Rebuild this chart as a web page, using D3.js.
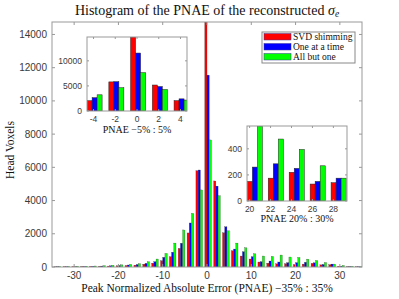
<!DOCTYPE html>
<html>
<head>
<meta charset="utf-8">
<script src="https://cdn.jsdelivr.net/npm/d3@7"></script>
<style>
  body { margin: 0; background: #fff; }
  svg { display: block; }
  .tick-label { font-family: "Liberation Sans", Arial, sans-serif; fill: #3a3a3a; }
  .serif { font-family: "Liberation Serif", "DejaVu Serif", serif; fill: #111; }
</style>
</head>
<body>
<div id="chart"></div>
<script>
var width = 399
var height = 299

// histogram bin centres (PNAE, %)
var bins = [-34, -32, -30, -28, -26, -24, -22, -20, -18, -16, -14, -12, -10, -8, -6, -4, -2,
            0, 2, 4, 6, 8, 10, 12, 14, 16, 18, 20, 22, 24, 26, 28, 30, 32, 34]

var svdShimming = [15, 20, 25, 30, 35, 45, 55, 70, 90, 110, 170, 230, 380, 620, 1120, 2050, 5800,
                   14750, 5180, 2060, 980, 660, 480, 300, 230, 190, 200, 150, 175, 220, 130, 140, 50, 25, 15]
var oneAtATime  = [20, 20, 25, 30, 40, 55, 70, 90, 120, 150, 220, 320, 580, 890, 1430, 2650, 5840,
                   11550, 4870, 2420, 1080, 920, 620, 320, 360, 300, 260, 260, 285, 250, 150, 175, 50, 30, 20]
var allButOne   = [25, 30, 40, 50, 60, 80, 100, 130, 160, 200, 320, 480, 820, 1440, 2230, 3230, 4640,
                   7650, 4290, 2180, 1440, 1160, 800, 660, 640, 720, 600, 575, 475, 395, 270, 175, 90, 40, 25]

var seriesNames = ["SVD shimming", "One at a time", "All but one"]
var seriesColors = ["#ff0000", "#0000ff", "#00ff00"]
var series = [svdShimming, oneAtATime, allButOne]

var mainXTicks = [-30, -20, -10, 0, 10, 20, 30]
var mainYTicks = [0, 2000, 4000, 6000, 8000, 10000, 12000, 14000]
var inset1Bins = [-4, -2, 0, 2, 4]
var inset1YTicks = [0, 5000, 10000]
var inset2Bins = [20, 22, 24, 26, 28]
var inset2YTicks = [0, 200, 400]

var svg = d3.select("#chart").append("svg")
    .attr("width", width)
    .attr("height", height)

var rows = bins.map(function(b, i) {
  return { bin: b, values: series.map(function(s) { return s[i] }) }
})

function drawPanel(opt) {
  var x = d3.scaleLinear().domain(opt.xDomain).range([opt.left, opt.right])
  var y = d3.scaleLinear().domain(opt.yDomain).range([opt.bottom, opt.top])
  var g = svg.append("g")

  var clipId = "clip-" + opt.name
  svg.append("clipPath").attr("id", clipId)
    .append("rect")
    .attr("x", opt.left).attr("y", opt.top)
    .attr("width", opt.right - opt.left).attr("height", opt.bottom - opt.top)

  g.append("rect")
    .attr("x", opt.left).attr("y", opt.top)
    .attr("width", opt.right - opt.left).attr("height", opt.bottom - opt.top)
    .attr("fill", "#fff")

  var data = rows.filter(function(r) { return opt.bins.indexOf(r.bin) >= 0 })
  var bw = opt.barWidth

  var groups = g.append("g").attr("clip-path", "url(#" + clipId + ")")
    .selectAll("g").data(data).enter().append("g")

  groups.selectAll("rect")
    .data(function(d) { return d.values.map(function(v, k) { return { bin: d.bin, v: v, k: k } }) })
    .enter().append("rect")
    .attr("x", function(d) { return x(d.bin + opt.offset + (d.k - 1.5) * bw) })
    .attr("width", function(d) { return x(bw) - x(0) })
    .attr("y", function(d) { return y(d.v) })
    .attr("height", function(d) { return y(0) - y(d.v) })
    .attr("fill", function(d) { return seriesColors[d.k] })
    .attr("stroke", opt.edge)
    .attr("stroke-width", opt.edgeWidth)

  // frame
  g.append("rect")
    .attr("x", opt.left).attr("y", opt.top)
    .attr("width", opt.right - opt.left).attr("height", opt.bottom - opt.top)
    .attr("fill", "none")
    .attr("stroke", "#999")
    .attr("stroke-width", 1)

  var tl = opt.tickLen
  opt.xTicks.forEach(function(t) {
    g.append("line").attr("x1", x(t)).attr("x2", x(t)).attr("y1", opt.bottom).attr("y2", opt.bottom - tl)
      .attr("stroke", "#999")
    g.append("line").attr("x1", x(t)).attr("x2", x(t)).attr("y1", opt.top).attr("y2", opt.top + tl)
      .attr("stroke", "#999")
    g.append("text").attr("class", "tick-label")
      .attr("x", x(t)).attr("y", opt.bottom + opt.fontSize + 2)
      .attr("text-anchor", "middle")
      .attr("font-size", opt.fontSize)
      .text(t < 0 ? "-" + Math.abs(t) : t)
  })
  opt.yTicks.forEach(function(t) {
    g.append("line").attr("x1", opt.left).attr("x2", opt.left + tl).attr("y1", y(t)).attr("y2", y(t))
      .attr("stroke", "#999")
    g.append("line").attr("x1", opt.right).attr("x2", opt.right - tl).attr("y1", y(t)).attr("y2", y(t))
      .attr("stroke", "#999")
    g.append("text").attr("class", "tick-label")
      .attr("x", opt.left - 5).attr("y", y(t) + opt.fontSize * 0.35)
      .attr("text-anchor", "end")
      .attr("font-size", opt.fontSize)
      .text(t)
  })

  if (opt.xLabel) {
    g.append("text").attr("class", "serif")
      .attr("x", (opt.left + opt.right) / 2).attr("y", opt.xLabelY)
      .attr("text-anchor", "middle")
      .attr("font-size", opt.labelSize)
      .text(opt.xLabel)
  }
  return { x: x, y: y }
}

// main histogram
drawPanel({
  name: "main", left: 52, right: 362, top: 22, bottom: 267,
  xDomain: [-35, 35], yDomain: [0, 14750],
  bins: bins, barWidth: 0.5, offset: 0.25,
  edge: "#333", edgeWidth: 0.25,
  xTicks: mainXTicks, yTicks: mainYTicks, tickLen: 3, fontSize: 10,
  xLabel: "Peak Normalized Absolute Error (PNAE) \u221235% : 35%", xLabelY: 292, labelSize: 11.5
})

// inset: -5% : 5%
drawPanel({
  name: "in1", left: 87, right: 187, top: 37, bottom: 111,
  xDomain: [-4.6, 4.6], yDomain: [0, 14750],
  bins: inset1Bins, barWidth: 0.46, offset: 0.1,
  edge: "#222", edgeWidth: 0.5,
  xTicks: inset1Bins, yTicks: inset1YTicks, tickLen: 2, fontSize: 8.5,
  xLabel: "PNAE \u22125% : 5%", xLabelY: 133, labelSize: 10
})

// inset: 20% : 30%
drawPanel({
  name: "in2", left: 247, right: 347, top: 126, bottom: 201,
  xDomain: [19.75, 29.3], yDomain: [0, 575],
  bins: inset2Bins, barWidth: 0.48, offset: 0.5,
  edge: "#222", edgeWidth: 0.5,
  xTicks: inset2Bins, yTicks: inset2YTicks, tickLen: 2, fontSize: 8.5,
  xLabel: "PNAE 20% : 30%", xLabelY: 222, labelSize: 10
})

// title
var title = svg.append("text").attr("class", "serif")
  .attr("x", 207).attr("y", 15)
  .attr("text-anchor", "middle")
  .attr("font-size", 14)
title.append("tspan").text("Histogram of the PNAE of the reconstructed ")
title.append("tspan").attr("font-style", "italic").text("\u03c3")
title.append("tspan").attr("font-style", "italic").attr("font-size", 9.5).attr("dy", 2).text("e")

// y label
svg.append("text").attr("class", "serif")
  .attr("transform", "translate(14," + 150 + ") rotate(-90)")
  .attr("text-anchor", "middle")
  .attr("font-size", 11.5)
  .text("Head Voxels")

// legend
var legend = svg.append("g")
legend.append("rect")
  .attr("x", 262).attr("y", 32).attr("width", 93).attr("height", 31)
  .attr("fill", "#fff").attr("stroke", "#888").attr("stroke-width", 1)

legend.selectAll("g.item").data(seriesNames).enter().append("g")
  .attr("class", "item")
  .each(function(name, i) {
    var item = d3.select(this)
    var yy = 33.5 + i * 10
    item.append("rect")
      .attr("x", 264).attr("y", yy).attr("width", 27).attr("height", 6.5)
      .attr("fill", seriesColors[i]).attr("stroke", "#3a3a9a").attr("stroke-width", 0.5)
    item.append("text").attr("class", "serif")
      .attr("x", 293).attr("y", yy + 6.3)
      .attr("font-size", 9.5)
      .text(name)
  })
</script>
</body>
</html>
